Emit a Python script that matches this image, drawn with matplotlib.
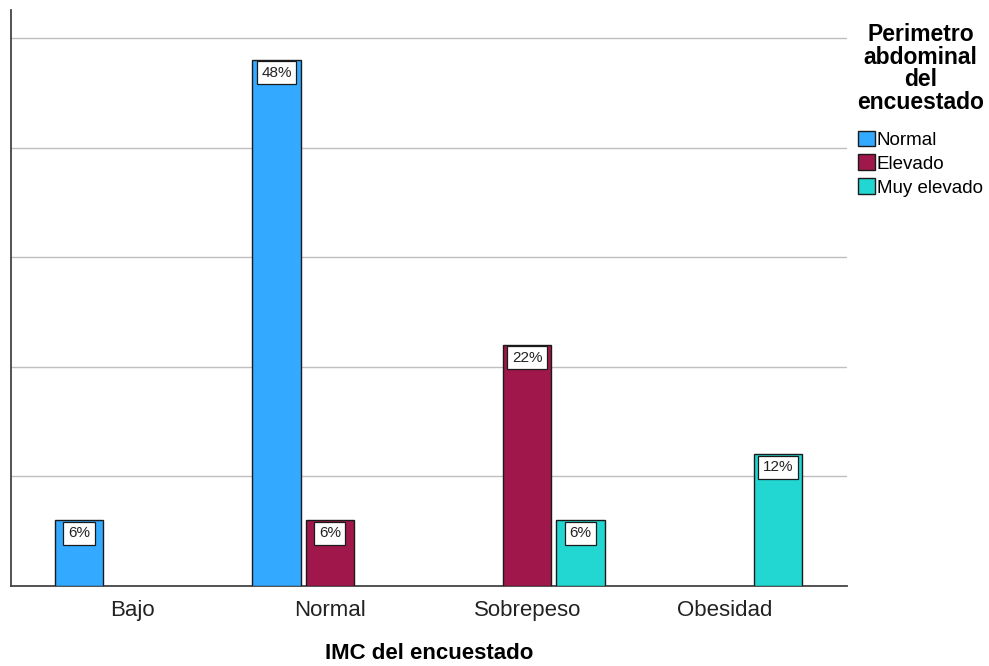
import matplotlib
matplotlib.use("Agg")
import matplotlib.pyplot as plt
import numpy as np
from matplotlib.patches import Patch

plt.rcParams["font.family"] = ["Liberation Sans", "DejaVu Sans"]

categories = ["Bajo", "Normal", "Sobrepeso", "Obesidad"]
series = ["Normal", "Elevado", "Muy elevado"]
# percentage of respondents per BMI group and waist circumference level (None = no bar)
normal_pct = [6, 48, None, None]
elevado_pct = [None, 6, 22, None]
muy_elevado_pct = [None, None, 6, 12]
colors = ["#33a9ff", "#a0174b", "#22d6d2"]

fig = plt.figure(figsize=(9.89, 6.66), dpi=100)
ax = fig.add_axes([11 / 989, 80 / 666, 836 / 989, 576 / 666])

x = np.arange(len(categories))
width = 0.244
offsets = [-0.27, 0.0, 0.27]
label_size = 11
pad = 0.3

for values, off, color in zip([normal_pct, elevado_pct, muy_elevado_pct], offsets, colors):
    for xi, v in zip(x, values):
        if v is None:
            continue
        ax.bar(xi + off, v, width=width, color=color, edgecolor="#1a1a1a",
               linewidth=1.0, zorder=3)
        ax.annotate(f"{v}%", xy=(xi + off, v), xytext=(0, -pad * label_size - 1.0),
                    textcoords="offset points", ha="center", va="top",
                    fontsize=label_size, color="#222222", zorder=4,
                    bbox=dict(boxstyle=f"square,pad={pad}", fc="white",
                              ec="#1a1a1a", lw=0.9))

ax.set_xlim(-0.614, 3.619)
ax.set_ylim(0, 52.55)
ax.set_yticks([10, 20, 30, 40, 50])
ax.yaxis.grid(True, color="#bfbfbf", linewidth=1.0, zorder=0)
ax.tick_params(axis="y", left=False, labelleft=False)
ax.tick_params(axis="x", length=0, pad=10, labelsize=16, labelcolor="#222222")
ax.set_xticks(x, categories)
ax.set_xlabel("IMC del encuestado", fontsize=16, fontweight="bold", labelpad=16)

for side in ["top", "right"]:
    ax.spines[side].set_visible(False)
ax.spines["left"].set_color("#444444")
ax.spines["left"].set_linewidth(1.3)
ax.spines["bottom"].set_color("#444444")
ax.spines["bottom"].set_linewidth(1.3)

handles = [Patch(facecolor=c, edgecolor="#1a1a1a", linewidth=1.0) for c in colors]
leg = fig.legend(handles, series, title="Perimetro\nabdominal\ndel\nencuestado",
                 loc="upper left", bbox_to_anchor=(857 / 989, 1 - 23 / 666),
                 frameon=False, fontsize=13.5, handlelength=0.9, handleheight=0.9,
                 handletextpad=0.1, labelspacing=0.3, borderaxespad=0,
                 borderpad=0, alignment="center",
                 title_fontproperties={"weight": "bold", "size": 16.5})
leg.get_title().set_linespacing(0.98)
leg.get_title().set_multialignment("center")
leg._legend_box.sep = 12

fig.savefig("out.png", dpi=100)
